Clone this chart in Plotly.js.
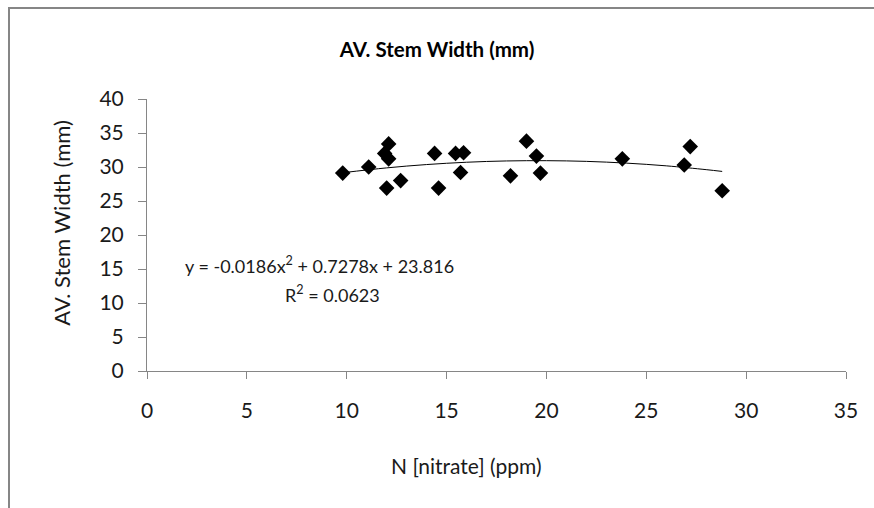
<!DOCTYPE html>
<html>
<head>
<meta charset="utf-8">
<script src="https://cdn.plot.ly/plotly-3.0.1.min.js"></script>
<style>
  html, body { margin: 0; padding: 0; background: #fff; }
  #wrap { position: relative; width: 874px; height: 508px; overflow: hidden; }
  #chart { position: absolute; left: 0; top: 0; width: 874px; height: 508px; }
  #frame { position: absolute; left: 8px; top: 7px; width: 900px; height: 540px;
           border: 2px solid #868686; pointer-events: none; }
</style>
</head>
<body>
<div id="wrap">
  <div id="chart"></div>
  <div id="frame"></div>
</div>
<script>
// Data
const nitrate = [9.8, 11.1, 12.1, 11.9, 12.1, 12.0, 12.7, 14.4, 14.6, 15.45, 15.85, 15.7,
                 18.2, 19.0, 19.5, 19.7, 23.8, 27.2, 26.9, 28.8];
const stemWidth = [29.1, 30.0, 33.4, 32.0, 31.2, 26.9, 28.0, 32.0, 26.9, 32.0, 32.1, 29.2,
                   28.7, 33.8, 31.6, 29.1, 31.2, 33.0, 30.3, 26.5];
// Polynomial trendline as drawn
const trendX = [9.8, 12, 14, 16, 18, 20, 22, 24, 26, 28, 28.8];
const trendY = [29.16, 29.87, 30.36, 30.70, 30.89, 30.93, 30.83, 30.57, 30.17, 29.61, 29.35];
const xTicks = [0, 5, 10, 15, 20, 25, 30, 35];
const yTicks = [0, 5, 10, 15, 20, 25, 30, 35, 40];

const FONT = "Lato, 'Open Sans', sans-serif";
const axisCol = "#868686";
const txtCol = "#1a1a1a";

const traces = [
  {
    x: trendX, y: trendY, type: "scatter", mode: "lines",
    line: { color: "#000", width: 1, shape: "spline" },
    hoverinfo: "skip", showlegend: false
  },
  {
    x: nitrate, y: stemWidth, type: "scatter", mode: "markers",
    marker: { symbol: "diamond", size: 12, color: "#000" },
    showlegend: false
  }
];

const layout = {
  width: 874, height: 508,
  margin: { l: 147, r: 28, t: 99, b: 137 },
  paper_bgcolor: "#fff", plot_bgcolor: "#fff",
  font: { family: FONT, color: txtCol, size: 16 },
  title: {
    text: "<b>AV. Stem Width (mm)</b>",
    font: { family: FONT, size: 20.5, color: "#000" },
    x: 0.5, xref: "container", xanchor: "center",
    y: 1 - 50 / 508, yref: "container", yanchor: "middle"
  },
  xaxis: {
    range: [0, 35], tickvals: xTicks, ticktext: xTicks.map(String),
    showgrid: false, zeroline: false,
    showline: true, linecolor: axisCol, linewidth: 1,
    ticks: "outside", ticklen: 7, tickcolor: axisCol,
    tickfont: { family: FONT, size: 21, color: txtCol },
    ticklabelstandoff: 14
  },
  yaxis: {
    range: [0, 40], tickvals: yTicks, ticktext: yTicks.map(String),
    showgrid: false, zeroline: false,
    showline: true, linecolor: axisCol, linewidth: 1,
    ticks: "outside", ticklen: 8, tickcolor: axisCol,
    tickfont: { family: FONT, size: 21, color: txtCol },
    ticklabelstandoff: 10
  },
  annotations: [
    { text: "N [nitrate] (ppm)", xref: "paper", yref: "paper",
      x: (466 - 147) / 699, y: (371 - 465) / 271.5, xanchor: "center", yanchor: "middle",
      showarrow: false, font: { family: FONT, size: 21, color: txtCol } },
    { text: "AV. Stem Width (mm)", xref: "paper", yref: "paper", textangle: -90,
      x: (62 - 147) / 699, y: (371 - 223) / 271.5, xanchor: "center", yanchor: "middle",
      showarrow: false, font: { family: FONT, size: 22, color: txtCol } },
    { text: "y = -0.0186x<sup>2</sup> + 0.7278x + 23.816", xref: "x", yref: "y",
      x: (320 - 147) / 20, y: (371 - 265) / 6.79, xanchor: "center", yanchor: "middle",
      showarrow: false, font: { family: FONT, size: 18, color: txtCol } },
    { text: "R<sup>2</sup> = 0.0623", xref: "x", yref: "y",
      x: (333 - 147) / 20, y: (371 - 294) / 6.79, xanchor: "center", yanchor: "middle",
      showarrow: false, font: { family: FONT, size: 18, color: txtCol } }
  ]
};

Plotly.newPlot("chart", traces, layout, { staticPlot: true, displayModeBar: false });
</script>
</body>
</html>
